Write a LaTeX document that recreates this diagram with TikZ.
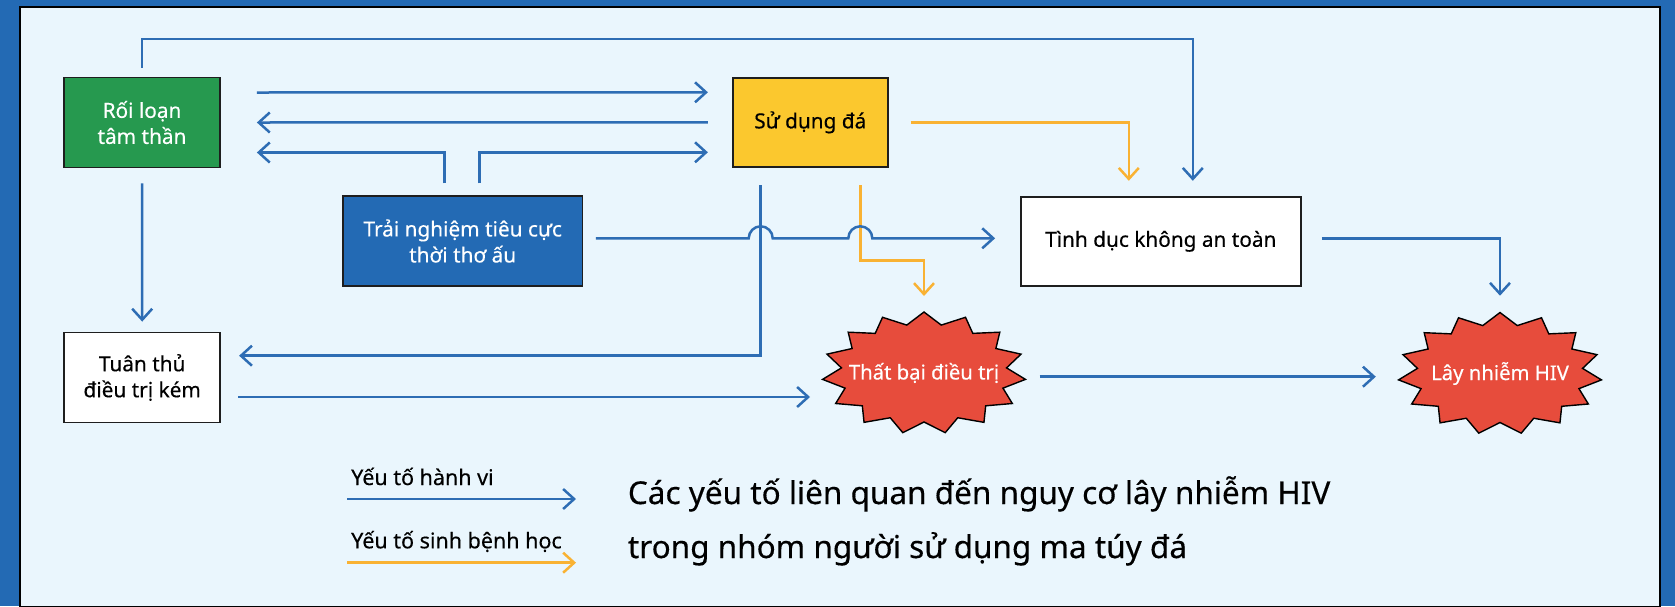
\documentclass[tikz,border=0pt]{standalone}
\usepackage{fontspec}
\setmainfont[FakeBold=0.35]{Noto Sans}
\usetikzlibrary{arrows.meta,calc}
\definecolor{bgblue}{HTML}{236AB4}
\definecolor{panel}{HTML}{EAF6FD}
\definecolor{boxgreen}{HTML}{26994F}
\definecolor{boxyellow}{HTML}{FBC82E}
\definecolor{starred}{HTML}{E74C3C}
\definecolor{linkorange}{HTML}{F9B233}
\definecolor{lineblue}{HTML}{2E6DB4}
\definecolor{boxline}{HTML}{1E1E1E}
\begin{document}
\begin{tikzpicture}[x=1pt,y=-1pt,
  box/.style={draw=boxline, line width=1.8pt, minimum width=156pt, minimum height=90pt,
    align=center, font=\fontsize{20.8}{26}\selectfont, inner sep=0pt},
  blink/.style={draw=lineblue, line width=2.5pt,
    -{Straight Barb[length=11pt,width=20pt,line width=2.5pt]}},
  olink/.style={draw=linkorange, line width=2.5pt,
    -{Straight Barb[length=11pt,width=20pt,line width=2.5pt]}},
  starshape/.style={fill=starred, draw=black, line width=1.4pt, line join=miter},
  startext/.style={text=white, font=\fontsize{20.3}{24}\selectfont, inner sep=0pt},
  legendtext/.style={font=\fontsize{21.5}{26}\selectfont, inner sep=0pt, anchor=base west},
  titletext/.style={font=\fontsize{31.5}{36}\selectfont, inner sep=0pt, anchor=base west}
]
\useasboundingbox (0,0) rectangle (1675,606);
\fill[bgblue] (0,0) rectangle (1675,606);
\filldraw[fill=panel, draw=black, line width=1.5pt] (20,7) rectangle (1660,607);

% boxes
\node[box, fill=boxgreen, text=white] (rl) at (142,122.5) {Rối loạn\\tâm thần};
\node[box, fill=boxyellow, minimum width=155pt, minimum height=89pt] (sd) at (810.3,122.3) {Sử dụng đá};
\node[box, fill=bgblue, text=white, minimum width=239.5pt, minimum height=89.4pt] (tn) at (462.7,241) {Trải nghiệm tiêu cực\\thời thơ ấu};
\node[box, fill=white, minimum width=279.6pt, minimum height=89.3pt] (td) at (1160.8,241.3) {Tình dục không an toàn};
\node[box, fill=white] (tt) at (142.2,377.5) {Tuân thủ\\điều trị kém};

% stars
\coordinate (tbc) at (924,373);
\coordinate (hivc) at (1500,373.5);
\draw[starshape] ($(tbc)+(90:102pt and 61pt)$)
  \foreach \i [evaluate=\i as \rx using {mod(\i,2)==0 ? 102 : 83},
               evaluate=\i as \ry using {mod(\i,2)==0 ? 61 : 49}] in {1,...,29}
  { -- ($(tbc)+({90+12*\i}:\rx pt and \ry pt)$) } -- cycle;
\draw[starshape] ($(hivc)+(90:102pt and 61pt)$)
  \foreach \i [evaluate=\i as \rx using {mod(\i,2)==0 ? 102 : 83},
               evaluate=\i as \ry using {mod(\i,2)==0 ? 61 : 49}] in {1,...,29}
  { -- ($(hivc)+({90+12*\i}:\rx pt and \ry pt)$) } -- cycle;
\node[startext] (tb) at (tbc) {Thất bại điều trị};
\node[startext] (hiv) at (hivc) {Lây nhiễm HIV};

% connectors
\draw[blink] ($(rl.east)+(36,-30)$) -- ($(sd.west)+(-24,-30)$);
\draw[blink] ($(sd.west)+(-24,0)$) -- ($(rl.east)+(36,0)$);
\draw[blink] ($(tn.north)+(-18,-12)$) |- ($(rl.east)+(36,30)$);
\draw[blink] ($(tn.north)+(17,-12)$) |- ($(sd.west)+(-24,30)$);
\draw[blink] ($(rl.north)+(0,-9)$) -- ++(0,-28.5) -| ($(td.north)+(32,-15)$);
\draw[olink] ($(sd.east)+(22,0)$) -| ($(td.north)+(-32,-15)$);
\draw[blink] ($(rl.south)+(0,15)$) -- ($(tt.north)+(0,-10)$);
\draw[blink] ($(sd.south)+(-49.6,17.3)$) |- ($(tt.east)+(18,-21.8)$);
\draw[olink] ($(sd.south)+(50,17.3)$) -- ++(0,75.7) -| ($(tb.center)+(0,-77)$);

\coordinate (a10) at ($(tn.east)+(12.5,-2.7)$);
\coordinate (j1) at ($(sd.south)+(-49.6,0)$);
\coordinate (j2) at ($(sd.south)+(50,0)$);
\draw[blink] (a10) -- ($(j1 |- a10)+(-12,0)$) arc[start angle=180, end angle=0, radius=12pt]
  -- ($(j2 |- a10)+(-12,0)$) arc[start angle=180, end angle=0, radius=12pt]
  -- ($(td.west)+(-25,-3)$);

\draw[blink] ($(tt.east)+(17.3,19.5)$) -- ($(tb.center)+(-114,24)$);
\draw[blink] ($(tb.center)+(115.7,3.7)$) -- ($(hiv.center)+(-124.2,3.2)$);
\draw[blink] ($(td.east)+(20.4,-3)$) -| ($(hiv.center)+(0,-77.8)$);

% legend
\node[legendtext] (lg1) at (351,485) {Yếu tố hành vi};
\coordinate (l1s) at (347,499);
\coordinate (l1e) at (576,499);
\draw[blink] (l1s) -- (l1e);
\node[legendtext] (lg2) at (351,548.3) {Yếu tố sinh bệnh học};
\coordinate (l2s) at (347,562.7);
\coordinate (l2e) at (576,562.7);
\draw[olink] (l2s) -- (l2e);

% title
\node[titletext] (title1) at (627.7,504) {Các yếu tố liên quan đến nguy cơ lây nhiễm HIV};
\node[titletext] (title2) at (627.7,558) {trong nhóm người sử dụng ma túy đá};
\end{tikzpicture}
\end{document}
